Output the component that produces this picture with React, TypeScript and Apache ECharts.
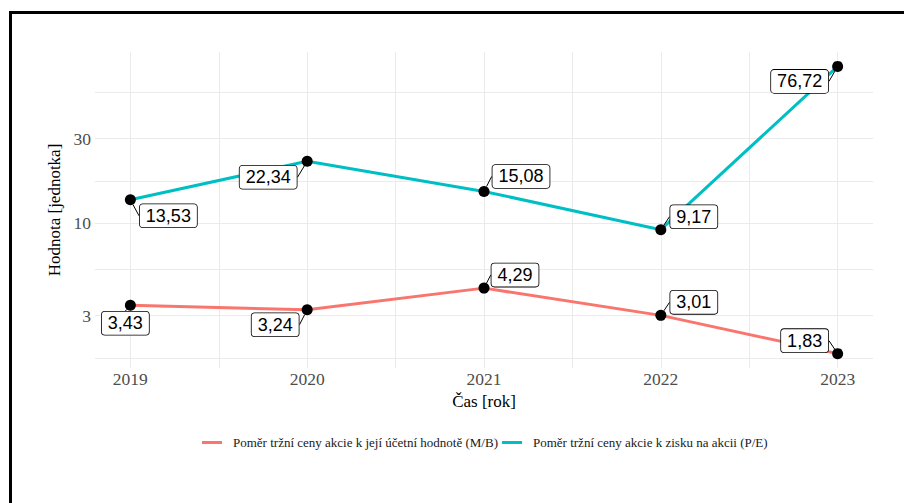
import React, { useEffect, useRef } from "react";
import * as echarts from "echarts";

const years = [2019, 2020, 2021, 2022, 2023];
const mbValues = [3.43, 3.24, 4.29, 3.01, 1.83];
const peValues = [13.53, 22.34, 15.08, 9.17, 76.72];
const seriesNames = [
  "Poměr tržní ceny akcie k její účetní hodnotě (M/B)",
  "Poměr tržní ceny akcie k zisku na akcii (P/E)",
];
const yTickLabels = [3, 10, 30];
const yGridValues = [1.732, 3, 5.477, 10, 17.32, 30, 54.77];
const xGridValues = [2019, 2019.5, 2020, 2020.5, 2021, 2021.5, 2022, 2022.5, 2023];

// label box offsets from points (layout, repel-like)
const labelOffsets = [
  [[-5, 18], [-32, 15], [31, -13], [33, -13], [-33, -13]],
  [[38, 16], [-39, 16], [37, -15], [33, -13], [-38, 15]],
];

const colors = ["#F8766D", "#00BFC4"];

export default function App() {
  const ref = useRef<HTMLDivElement>(null);
  useEffect(() => {
    document.body.style.margin = "0";
    const chart = echarts.init(ref.current!, null, { renderer: "svg" });
    const mkSeries = (idx: number, vals: number[]) => ({
      name: seriesNames[idx],
      type: "line",
      data: years.map((y, i) => [y, vals[i]]),
      symbol: "circle",
      symbolSize: 11,
      itemStyle: { color: "#000" },
      lineStyle: { color: colors[idx], width: 3 },
      label: {
        show: true,
        position: "inside",
        formatter: (p: any) => String(p.value[1].toFixed(2)).replace(".", ","),
        fontFamily: "Liberation Sans",
        fontSize: 18,
        color: "#000",
        backgroundColor: "#fff",
        borderColor: "#000",
        borderWidth: 0.8,
        borderRadius: 3,
        padding: [3, 6, 2, 6],
      },
      labelLine: { show: true, lineStyle: { color: "#000", width: 1 } },
      labelLayout: (p: any) => {
        const o = labelOffsets[idx][p.dataIndex];
        return { dx: o[0], dy: o[1], hideOverlap: false };
      },
      emphasis: { disabled: true },
    });
    chart.setOption({
      animation: false,
      backgroundColor: "#fff",
      grid: { left: 95, right: 31, top: 52, bottom: 135 },
      xAxis: {
        type: "value",
        min: 2018.8,
        max: 2023.2,
        name: "Čas [rok]",
        nameLocation: "middle",
        nameGap: 18,
        nameTextStyle: { fontFamily: "Liberation Serif", fontSize: 17, color: "#000" },
        axisLine: { show: false },
        axisTick: { show: false, customValues: xGridValues },
        axisLabel: {
          customValues: years,
          fontFamily: "Liberation Serif",
          fontSize: 17.5,
          color: "#4d4d4d",
          margin: 2,
          formatter: (v: number) => String(v),
        },
        splitLine: { show: true, lineStyle: { color: "#ebebeb", width: 1 } },
      },
      yAxis: {
        type: "log",
        logBase: 10,
        min: 1.518,
        max: 92.5,
        name: "Hodnota [jednotka]",
        nameLocation: "middle",
        nameGap: 28,
        nameRotate: 90,
        nameTextStyle: { fontFamily: "Liberation Serif", fontSize: 17, color: "#000" },
        axisLine: { show: false },
        axisTick: { show: false, customValues: yGridValues },
        axisLabel: {
          customValues: yTickLabels,
          fontFamily: "Liberation Serif",
          fontSize: 17.5,
          color: "#4d4d4d",
          margin: 4,
          formatter: (v: number) => String(Math.round(v)),
        },
        splitLine: { show: true, lineStyle: { color: "#ebebeb", width: 1 } },
      },
      legend: {
        left: 202,
        top: 436,
        padding: 0,
        itemWidth: 20,
        itemHeight: 3,
        itemGap: 4,
        textStyle: { fontFamily: "Liberation Serif", fontSize: 13, color: "#1a1a1a", padding: [0, 0, 0, 6] },
        data: seriesNames.map((n, i) => ({ name: n, icon: "rect", itemStyle: { color: colors[i] } })),
      },
      graphic: [
        {
          type: "rect",
          shape: { x: 10.5, y: 12.5, width: 1000, height: 1000 },
          style: { fill: "none", stroke: "#000", lineWidth: 3 },
          silent: true,
        },
      ],
      series: [mkSeries(0, mbValues), mkSeries(1, peValues)],
    });
    return () => chart.dispose();
  }, []);
  return <div ref={ref} style={{ width: 904, height: 503 }} />;
}
